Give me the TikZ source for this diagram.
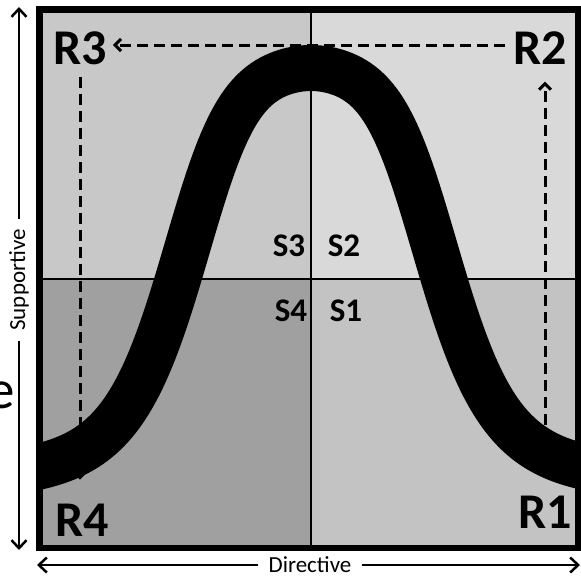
\documentclass[tikz,border=0pt]{standalone}
\usepackage{fontspec}
\setmainfont{Carlito}
\usetikzlibrary{arrows.meta}
\definecolor{qtl}{HTML}{C8C8C8}
\definecolor{qtr}{HTML}{D9D9D9}
\definecolor{qbl}{HTML}{A0A0A0}
\definecolor{qbr}{HTML}{C3C3C3}
\begin{document}
\begin{tikzpicture}[x=1pt,y=-1pt,
  rlbl/.style={font=\fontsize{50}{50}\selectfont\bfseries, inner sep=0pt},
  slbl/.style={font=\fontsize{33}{33}\selectfont\bfseries, inner sep=0pt},
  axlbl/.style={font=\fontsize{23}{23}\selectfont, inner xsep=10pt, inner ysep=0pt},
  axarrow/.style={line width=2.5pt, -{Straight Barb[length=8pt,width=15pt,line width=2.5pt]}},
  dasharrow/.style={line width=3pt, dash pattern=on 11pt off 6pt, -{Straight Barb[length=6pt,width=12pt,line width=3pt]}},
  midline/.style={line width=1.5pt},
  bell/.style={line width=46pt}
]
\useasboundingbox (0,0) rectangle (581,579);
% quadrants
\fill[qtl] (39.5,9.5) rectangle (311,279);
\fill[qtr] (311,9.5) rectangle (578,279);
\fill[qbl] (39.5,279) rectangle (311,548);
\fill[qbr] (311,279) rectangle (578,548);
\draw[midline] (311,9.5) -- (311,548);
\draw[midline] (39.5,279) -- (578,279);
% bell curve
\begin{scope}
\clip (39.5,9.5) rectangle (578,548);
\draw[bell] plot[domain=-2.6:2.6, samples=200, smooth]
  ({311+133*\x}, {480-412/(1+0.251*\x*\x+0.799*abs(\x*\x*\x*\x*\x))});
\end{scope}
% labels
\node[rlbl] (R3) at (80,48) {R3};
\node[rlbl] (R2) at (540,48) {R2};
\node[rlbl] (R4) at (82,520) {R4};
\node[rlbl] (R1) at (545,512) {R1};
\node[slbl] (S3) at (289,246) {S3};
\node[slbl] (S2) at (344,246) {S2};
\node[slbl] (S4) at (291,311) {S4};
\node[slbl] (S1) at (346,311) {S1};
% dashed arrows
\draw[dasharrow, shorten <=20pt, shorten >=17pt] (R1.north) -- (R1.north |- R2.south);
\draw[dasharrow, shorten <=8pt, shorten >=6pt] (R2.west |- 0,45) -- (R3.east |- 0,45);
\draw[dasharrow, shorten <=12pt, shorten >=24pt] (R3.south) -- (R3.south |- R4.north);
% frame
\draw[line width=6.5pt] (39.5,9.5) rectangle (578,548);
% axes
\node[axlbl, rotate=90] (sup) at (19,280) {Supportive};
\coordinate (vt) at (19,7);
\coordinate (vb) at (19,550);
\draw[axarrow] (sup.east) -- (vt);
\draw[axarrow] (sup.west) -- (vb);
\node[axlbl] (dir) at (310,565) {Directive};
\coordinate (hl) at (37,565);
\coordinate (hr) at (580,565);
\draw[axarrow] (dir.west) -- (hl);
\draw[axarrow] (dir.east) -- (hr);
% clipped fragment at left edge
\node[font=\fontsize{55}{55}\selectfont, inner sep=0pt, anchor=base east] (frag) at (15,408) {e};
\end{tikzpicture}
\end{document}
